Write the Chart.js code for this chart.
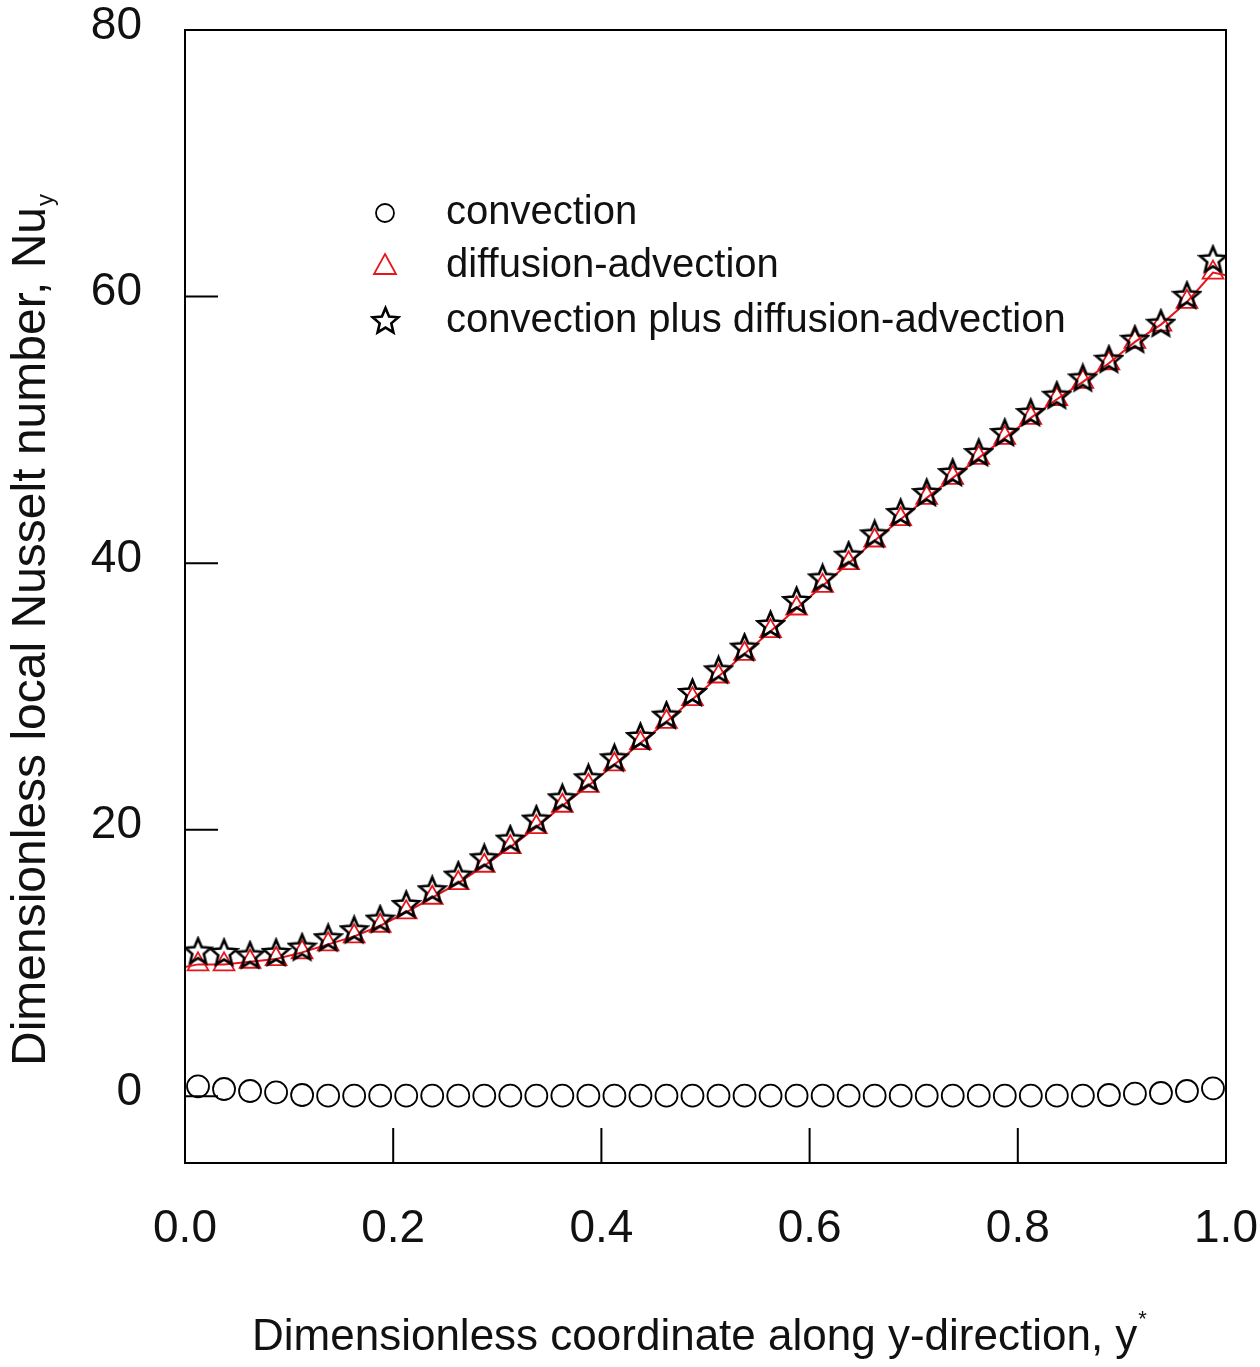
<!DOCTYPE html>
<html>
<head>
<meta charset="utf-8">
<script src="https://cdn.jsdelivr.net/npm/chart.js@4.4.1/dist/chart.umd.min.js"></script>
<style>
  html, body { margin: 0; padding: 0; background: #fff; }
  #wrap { width: 1260px; height: 1367px; }
</style>
</head>
<body>
<div id="wrap"><canvas id="myChart" width="1260" height="1367"></canvas></div>
<script>
// dimensionless coordinate y* of the sampled points
const yStar = [
  0.0125, 0.0375, 0.0625, 0.0875, 0.1125, 0.1375, 0.1625, 0.1875, 0.2125, 0.2375,
  0.2625, 0.2875, 0.3125, 0.3375, 0.3625, 0.3875, 0.4125, 0.4375, 0.4625, 0.4875,
  0.5125, 0.5375, 0.5625, 0.5875, 0.6125, 0.6375, 0.6625, 0.6875, 0.7125, 0.7375,
  0.7625, 0.7875, 0.8125, 0.8375, 0.8625, 0.8875, 0.9125, 0.9375, 0.9625, 0.9875,
];
const convection = [
  0.75, 0.55, 0.4, 0.3, 0.1, 0.05, 0.05, 0.05, 0.05, 0.05,
  0.05, 0.05, 0.05, 0.05, 0.05, 0.05, 0.05, 0.05, 0.05, 0.05,
  0.05, 0.05, 0.05, 0.05, 0.05, 0.05, 0.05, 0.05, 0.05, 0.05,
  0.05, 0.05, 0.05, 0.05, 0.05, 0.1, 0.2, 0.25, 0.4, 0.6,
];
const diffusionAdvection = [
  9.9, 9.9, 10.1, 10.3, 10.8, 11.4, 12.0, 12.8, 13.8, 14.9,
  16.0, 17.3, 18.7, 20.2, 21.8, 23.3, 24.9, 26.5, 28.1, 29.8,
  31.5, 33.2, 34.9, 36.6, 38.3, 40.0, 41.7, 43.3, 44.9, 46.4,
  47.9, 49.4, 50.9, 52.3, 53.6, 55.0, 56.6, 57.9, 59.6, 61.8,
];
const combined = [
  10.9, 10.8, 10.6, 10.8, 11.2, 11.9, 12.5, 13.3, 14.4, 15.5,
  16.6, 17.9, 19.3, 20.8, 22.4, 23.9, 25.4, 27.0, 28.6, 30.3,
  32.0, 33.7, 35.4, 37.2, 38.9, 40.6, 42.2, 43.8, 45.3, 46.8,
  48.3, 49.8, 51.3, 52.6, 53.9, 55.3, 56.8, 58.0, 60.1, 62.8,
];
// red solid curve, ends read at y* = 0 and y* = 1
const curveX = [0, ...yStar, 1];
const curveY = [9.7, ...diffusionAdvection, 61.6];

const xTicks = [0, 0.2, 0.4, 0.6, 0.8, 1.0];
const yTicks = [0, 20, 40, 60, 80];
const labels = ["convection", "diffusion-advection", "convection plus diffusion-advection"];

const RED = "rgb(232, 20, 27)";
const FONT = "'Liberation Sans', Arial, sans-serif";

function makeStar(size, color) {
  const c = document.createElement("canvas");
  c.width = size;
  c.height = size;
  const g = c.getContext("2d");
  const R = size / 2 - 2, r = R * 0.45;
  g.beginPath();
  for (let k = 0; k < 10; k++) {
    const a = -Math.PI / 2 + (k * Math.PI) / 5;
    const rad = k % 2 ? r : R;
    g.lineTo(size / 2 + rad * Math.cos(a), size / 2 + 1 + rad * Math.sin(a));
  }
  g.closePath();
  g.strokeStyle = color;
  g.lineWidth = 2.6;
  g.lineJoin = "miter";
  g.stroke();
  return c;
}
const starImg = makeStar(31, "#000");

const pts = (xs, ys) => xs.map((x, i) => ({ x: x, y: ys[i] }));

// frame, inward ticks, tick labels, titles and legend
const decor = {
  id: "decor",
  afterDraw(chart) {
    const { ctx, chartArea: a, scales } = chart;
    ctx.save();
    ctx.strokeStyle = "#000";
    ctx.lineWidth = 2;
    ctx.strokeRect(a.left, a.top, a.right - a.left, a.bottom - a.top);
    ctx.beginPath();
    xTicks.slice(1, -1).forEach((v) => {
      const px = scales.x.getPixelForValue(v);
      ctx.moveTo(px, a.bottom);
      ctx.lineTo(px, a.bottom - 35);
    });
    yTicks.slice(0, -1).forEach((v) => {
      const py = scales.y.getPixelForValue(v);
      ctx.moveTo(a.left, py);
      ctx.lineTo(a.left + 33, py);
    });
    ctx.stroke();

    ctx.fillStyle = "#111";
    ctx.font = "46px " + FONT;
    ctx.textBaseline = "middle";
    ctx.textAlign = "right";
    yTicks.forEach((v) => {
      ctx.fillText(String(v), a.left - 43, scales.y.getPixelForValue(v) - 4);
    });
    ctx.textAlign = "center";
    xTicks.forEach((v) => {
      ctx.fillText(v.toFixed(1), scales.x.getPixelForValue(v), a.bottom + 66);
    });

    // x title
    ctx.font = "44px " + FONT;
    ctx.textBaseline = "alphabetic";
    ctx.textAlign = "left";
    const xt = "Dimensionless coordinate along y-direction, y";
    const xw = ctx.measureText(xt).width;
    const x0 = 252;
    ctx.fillText(xt, x0, 1350);
    ctx.font = "22px " + FONT;
    ctx.fillText("*", x0 + xw + 1, 1326);

    // y title
    ctx.save();
    ctx.translate(45, 1066);
    ctx.rotate(-Math.PI / 2);
    ctx.font = "48px " + FONT;
    const yt = "Dimensionless local Nusselt number, Nu";
    ctx.fillText(yt, 0, 0);
    const yw = ctx.measureText(yt).width;
    ctx.font = "24px " + FONT;
    ctx.fillText("y", yw + 1, 8);
    ctx.restore();

    // legend
    const lx = 385, rows = [213, 266, 321];
    ctx.font = "40px " + FONT;
    ctx.textBaseline = "middle";
    labels.forEach((t, i) => ctx.fillText(t, 446, rows[i]));
    ctx.lineWidth = 1.8;
    ctx.strokeStyle = "#000";
    ctx.beginPath();
    ctx.arc(lx, rows[0], 9, 0, Math.PI * 2);
    ctx.stroke();
    ctx.strokeStyle = RED;
    ctx.beginPath();
    ctx.moveTo(lx, rows[1] - 12);
    ctx.lineTo(lx + 11, rows[1] + 8);
    ctx.lineTo(lx - 11, rows[1] + 8);
    ctx.closePath();
    ctx.stroke();
    ctx.drawImage(starImg, lx - 15, rows[2] - 16);
    ctx.restore();
  },
};

const ctx = document.getElementById("myChart").getContext("2d");
new Chart(ctx, {
  type: "scatter",
  data: {
    datasets: [
      {
        label: labels[2],
        data: pts(yStar, combined),
        pointStyle: starImg,
        order: 0,
      },
      {
        label: labels[1],
        data: pts(yStar, diffusionAdvection),
        pointStyle: "triangle",
        pointRadius: 12,
        pointBorderWidth: 1.8,
        borderColor: RED,
        backgroundColor: "rgba(0,0,0,0)",
        order: 1,
      },
      {
        label: "curve",
        data: pts(curveX, curveY),
        showLine: true,
        pointRadius: 0,
        borderColor: RED,
        borderWidth: 2,
        order: 2,
      },
      {
        label: labels[0],
        data: pts(yStar, convection),
        pointStyle: "circle",
        pointRadius: 11,
        pointBorderWidth: 1.8,
        borderColor: "#000",
        backgroundColor: "rgba(0,0,0,0)",
        order: 3,
      },
    ],
  },
  options: {
    responsive: false,
    animation: false,
    layout: { padding: { top: 30, right: 34, left: 0, bottom: 0 } },
    plugins: { legend: { display: false }, tooltip: { enabled: false } },
    scales: {
      x: {
        type: "linear",
        min: 0,
        max: 1,
        afterBuildTicks: (s) => { s.ticks = xTicks.map((v) => ({ value: v })); },
        afterFit: (s) => { s.height = 204; },
        grid: { display: false, drawTicks: false },
        border: { display: false },
        ticks: { display: false },
      },
      y: {
        min: -5,
        max: 80,
        afterBuildTicks: (s) => { s.ticks = yTicks.map((v) => ({ value: v })); },
        afterFit: (s) => { s.width = 185; },
        grid: { display: false, drawTicks: false },
        border: { display: false },
        ticks: { display: false },
      },
    },
  },
  plugins: [decor],
});
</script>
</body>
</html>
